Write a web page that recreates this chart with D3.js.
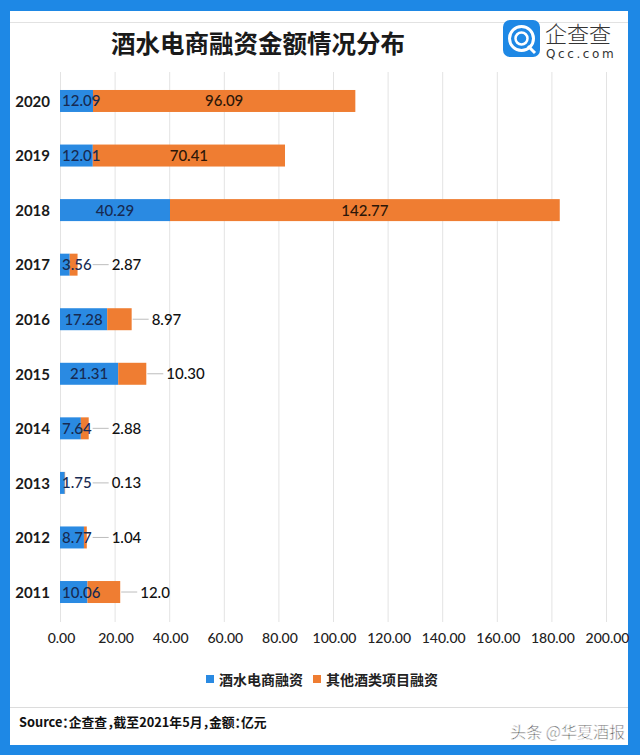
<!DOCTYPE html>
<html><head><meta charset="utf-8">
<script src="https://cdn.jsdelivr.net/npm/d3@7/dist/d3.min.js"></script>
<style>
html,body{margin:0;padding:0;background:#1e88e5;}
svg{display:block;}
</style></head>
<body>
<svg id="c" width="640" height="755"></svg>
<script>
// ---- data ----
const title = "酒水电商融资金额情况分布";
const years = ["2020","2019","2018","2017","2016","2015","2014","2013","2012","2011"];
const seriesNames = ["酒水电商融资","其他酒类项目融资"];
const ecommerce = [12.09,12.01,40.29,3.56,17.28,21.31,7.64,1.75,8.77,10.06];
const other = [96.09,70.41,142.77,2.87,8.97,10.30,2.88,0.13,1.04,12.0];
const ecommerceLabels = ["12.09","12.01","40.29","3.56","17.28","21.31","7.64","1.75","8.77","10.06"];
const otherLabels = ["96.09","70.41","142.77","2.87","8.97","10.30","2.88","0.13","1.04","12.0"];
const xTicks = [0,20,40,60,80,100,120,140,160,180,200];
const sourceText = "Source：企查查，截至2021年5月，金额：亿元";
const watermark = "头条 @华夏酒报";

const BLUE = "#2a8ae2", ORANGE = "#ef7d32";
const CJK = "'Noto Sans CJK SC','Noto Sans',sans-serif";
const NUM = "Lato,'Noto Sans',sans-serif";

const svg = d3.select("#c");
// frame
svg.append("rect").attr("x",0).attr("y",0).attr("width",640).attr("height",755).attr("fill","#1e88e5");
svg.append("rect").attr("x",10).attr("y",11).attr("width",618).attr("height",734).attr("fill","#fff");
svg.append("line").attr("x1",10).attr("x2",628).attr("y1",22.5).attr("y2",22.5).attr("stroke","#e2e2e2");
svg.append("line").attr("x1",10).attr("x2",628).attr("y1",707.5).attr("y2",707.5).attr("stroke","#dcdcdc");

// title
svg.append("text").attr("x",258).attr("y",53).attr("text-anchor","middle")
  .attr("font-family",CJK).attr("font-weight",700).attr("font-size",24.5).attr("fill","#1a1a1a").text(title);

// logo
const lg = svg.append("g");
lg.append("rect").attr("x",503).attr("y",20).attr("width",37).attr("height",37).attr("rx",7).attr("fill","#1e88e5");
lg.append("circle").attr("cx",521.5).attr("cy",38.5).attr("r",12).attr("fill","none").attr("stroke","#fff").attr("stroke-width",3);
lg.append("circle").attr("cx",521.5).attr("cy",38.5).attr("r",6).attr("fill","none").attr("stroke","#fff").attr("stroke-width",2.5);
lg.append("line").attr("x1",528).attr("y1",46).attr("x2",535).attr("y2",53).attr("stroke","#fff").attr("stroke-width",3);
lg.append("text").attr("x",545).attr("y",42).attr("font-family",CJK).attr("font-weight",300).attr("font-size",22).attr("fill","#333").text("企查查");
lg.append("text").attr("x",546).attr("y",58).attr("font-family","'DejaVu Sans',sans-serif").attr("font-size",12).attr("fill","#333").attr("letter-spacing",2.6).text("Qcc.com");

// scales
const x = d3.scaleLinear().domain([0,200]).range([60,606]);
const y = d3.scaleBand().domain(years).range([73.7,619.3]).paddingInner(0.597).paddingOuter(0.2985);

// grid
svg.append("g").selectAll("line").data(xTicks).join("line")
  .attr("x1",d=>x(d)+0.5).attr("x2",d=>x(d)+0.5).attr("y1",72).attr("y2",622)
  .attr("stroke","#e3e3e3").attr("stroke-width",1);

// x axis labels
const xAxis = d3.axisBottom(x).tickValues(xTicks).tickFormat(d3.format(".2f")).tickSize(0).tickPadding(0);
const gx = svg.append("g").attr("transform","translate(1,633)").call(xAxis);
gx.select(".domain").remove();
gx.selectAll("text").attr("font-family",NUM).attr("font-size",14).attr("font-weight",500).attr("fill","#222");

// y axis labels
const yAxis = d3.axisLeft(y).tickSize(0).tickPadding(0);
const gy = svg.append("g").attr("transform","translate(50,1)").call(yAxis);
gy.select(".domain").remove();
gy.selectAll("text").attr("font-family",NUM).attr("font-size",15).attr("font-weight",700).attr("fill","#1a1a1a");

// bars
const rows = years.map((yr,i)=>({yr, a:ecommerce[i], b:other[i], la:ecommerceLabels[i], lb:otherLabels[i]}));
const bars = svg.append("g");
bars.selectAll("rect.a").data(rows).join("rect").attr("class","a")
  .attr("x",x(0)).attr("y",d=>y(d.yr)).attr("width",d=>x(d.a)-x(0)).attr("height",y.bandwidth()).attr("fill",BLUE);
bars.selectAll("rect.b").data(rows).join("rect").attr("class","b")
  .attr("x",d=>x(d.a)).attr("y",d=>y(d.yr)).attr("width",d=>x(d.a+d.b)-x(d.a)).attr("height",y.bandwidth()).attr("fill",ORANGE);

// labels
const lab = svg.append("g").attr("font-family",NUM).attr("font-size",15).attr("font-weight",500);
rows.forEach(d=>{
  const cy = y(d.yr)+y.bandwidth()/2 + 5.5;
  const x0 = x(0), x1 = x(d.a), x2 = x(d.a+d.b);
  const ta = lab.append("text").attr("y",cy).attr("fill","#172a52").text(d.la);
  const wa = ta.node().getComputedTextLength();
  let aEnd;
  if (x1-x0 >= wa+6) { ta.attr("x",(x0+x1)/2).attr("text-anchor","middle"); aEnd = x1; }
  else { ta.attr("x",x0+2); aEnd = x0+2+wa; }
  const tb = lab.append("text").attr("y",cy).text(d.lb);
  const wb = tb.node().getComputedTextLength();
  if (x2-x1 >= wb+12) {
    tb.attr("x",(x1+x2)/2).attr("text-anchor","middle").attr("fill","#2b1608");
  } else {
    const start = Math.max(x2, aEnd);
    const lx = start + 20;
    tb.attr("x",lx).attr("fill","#111");
    lab.append("line").attr("x1",Math.max(x2,aEnd)+1).attr("x2",lx-3)
      .attr("y1",cy-5.5).attr("y2",cy-5.5).attr("stroke","#bdbdbd").attr("stroke-width",1);
  }
});

// legend
const leg = svg.append("g").attr("font-family",CJK).attr("font-size",14).attr("font-weight",700).attr("fill","#222");
let lx = 206;
seriesNames.forEach((n,i)=>{
  leg.append("rect").attr("x",lx).attr("y",675).attr("width",8).attr("height",8).attr("fill",i===0?BLUE:ORANGE);
  const t = leg.append("text").attr("x",lx+13).attr("y",684.5).text(n);
  lx += 13 + t.node().getComputedTextLength() + 10;
});

// source
svg.append("text").attr("x",19).attr("y",727).attr("font-family",CJK).attr("font-size",12.8).attr("font-weight",700)
  .style("font-feature-settings","'halt'").attr("fill","#111").text(sourceText);

// watermark
svg.append("text").attr("x",625).attr("y",738).attr("text-anchor","end").attr("font-family",CJK)
  .attr("font-size",16).attr("fill","#3a3a3a").attr("stroke","#fff").attr("stroke-width",0.6).text(watermark);
</script>
</body></html>
